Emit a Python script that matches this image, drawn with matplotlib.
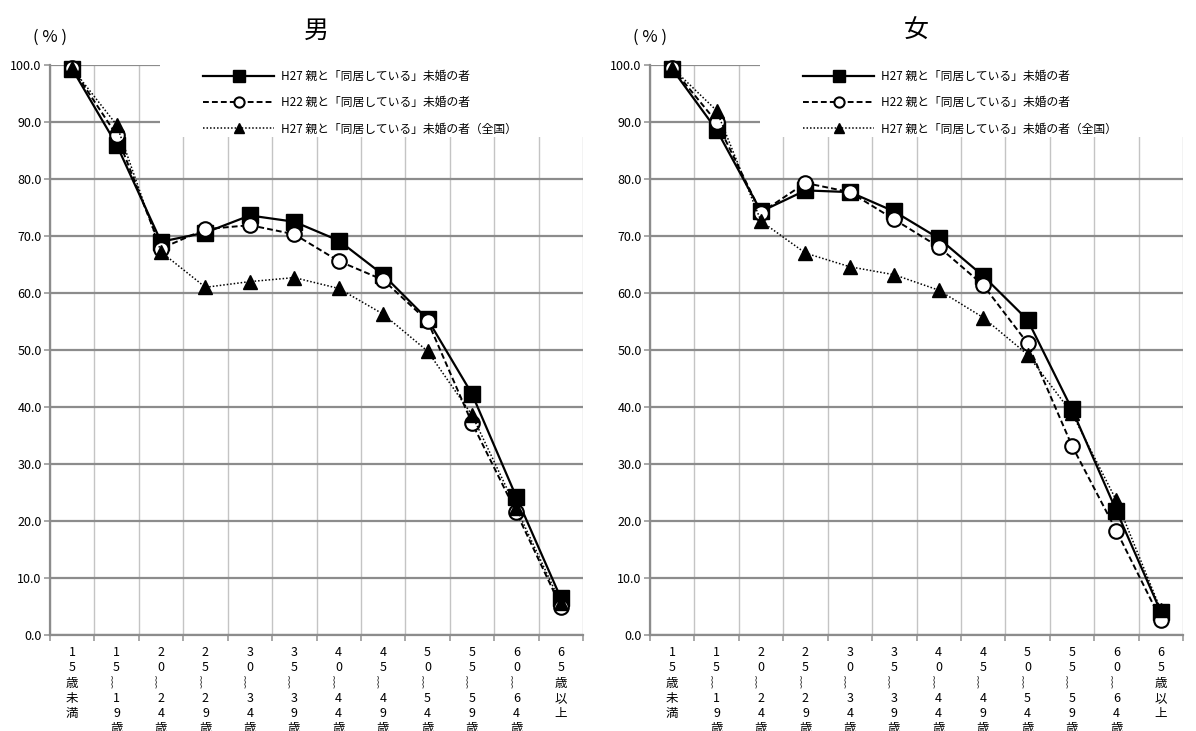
import numpy as np
import matplotlib.pyplot as plt
from matplotlib.lines import Line2D
from matplotlib.patches import Rectangle
from matplotlib.ticker import FixedLocator, FormatStrFormatter

plt.rcParams['font.family'] = ['Noto Sans CJK JP', 'DejaVu Sans']

# age groups (vertical labels)
age_labels = ['15歳未満', '15︴19歳', '20︴24歳', '25︴29歳', '30︴34歳', '35︴39歳',
              '40︴44歳', '45︴49歳', '50︴54歳', '55︴59歳', '60︴64歳', '65歳以上']

series_names = ['H27 親と「同居している」未婚の者',
                'H22 親と「同居している」未婚の者',
                'H27 親と「同居している」未婚の者（全国）']

# 男
male_h27 = [99.3, 86.0, 69.0, 70.6, 73.6, 72.5, 69.2, 63.2, 55.4, 42.3, 24.2, 6.5]
male_h22 = [99.5, 87.7, 67.8, 71.2, 71.9, 70.3, 65.6, 62.3, 55.1, 37.2, 21.5, 5.0]
male_all = [99.4, 89.5, 67.2, 61.0, 62.0, 62.7, 60.8, 56.3, 49.8, 38.6, 22.2, 5.6]

# 女
female_h27 = [99.3, 88.6, 74.3, 78.0, 77.7, 74.3, 69.6, 63.0, 55.3, 39.6, 21.8, 4.1]
female_h22 = [99.5, 90.0, 74.1, 79.3, 77.7, 72.9, 68.1, 61.4, 51.2, 33.2, 18.3, 2.7]
female_all = [99.5, 92.0, 72.6, 67.0, 64.6, 63.2, 60.5, 55.7, 49.2, 38.9, 23.6, 4.4]


def vlabel(s):
    return '\n'.join(list(s))


styles = [dict(ls='-', lw=1.6, marker='s', ms=12, mfc='black', mec='black'),
          dict(ls=(0, (3, 1.6)), lw=1.4, marker='o', ms=10.5, mfc='white', mec='black', mew=1.5),
          dict(ls=(0, (1, 1.3)), lw=1.1, marker='^', ms=10.5, mfc='black', mec='black')]

fig = plt.figure(figsize=(11.96, 7.31), dpi=100)
W, H = 1196, 731

x = np.arange(len(age_labels))


def draw(ax, title, data):
    for vals, st in zip(data, styles):
        ax.plot(x, vals, color='black', zorder=5, clip_on=False, **st)
    ax.set_xlim(-0.5, len(age_labels) - 0.5)
    ax.set_ylim(0, 100)
    ax.set_yticks(np.arange(0, 101, 10))
    ax.yaxis.set_major_formatter(FormatStrFormatter('%.1f'))
    ax.set_xticks(x)
    ax.set_xticklabels([vlabel(s) for s in age_labels], fontsize=9, linespacing=1.22, va='top')
    ax.tick_params(axis='x', which='major', length=0, pad=8)
    ax.xaxis.set_minor_locator(FixedLocator(np.arange(-0.5, len(age_labels), 1)))
    ax.tick_params(axis='x', which='minor', length=4, color='#999999', width=1.2)
    ax.tick_params(axis='y', length=4, color='#999999', width=1.2, labelsize=9, pad=2)
    ax.grid(axis='y', which='major', color='#8c8c8c', lw=1.6)
    ax.grid(axis='x', which='minor', color='#c4c4c4', lw=1.0)
    ax.set_axisbelow(True)
    for s in ['top', 'right']:
        ax.spines[s].set_visible(False)
    for s in ['left', 'bottom']:
        ax.spines[s].set_color('#8c8c8c')
        ax.spines[s].set_linewidth(1.6)

    # white legend area covering grid
    ax.add_patch(Rectangle((0.206, 0.874), 0.82, 0.15, transform=ax.transAxes,
                           facecolor='white', edgecolor='none', zorder=2, clip_on=False))
    handles = [Line2D([], [], color='black', **{**st, 'ms': st['ms'] * 0.7}) for st in styles]
    ax.legend(handles, series_names, loc='upper left', bbox_to_anchor=(0.268, 1.01),
              frameon=False, fontsize=8.5, handlelength=6.0, handletextpad=0.6,
              labelspacing=1.12)

    ax.text(0.5, 1.06, title, transform=ax.transAxes, ha='center', va='center', fontsize=18)
    ax.text(0.0, 1.049, '( % )', transform=ax.transAxes, ha='center', va='center', fontsize=12)


ax1 = fig.add_axes([50 / W, 1 - 635 / H, 533 / W, 570 / H])
draw(ax1, '男', [male_h27, male_h22, male_all])

ax2 = fig.add_axes([650 / W, 1 - 635 / H, 533 / W, 570 / H])
draw(ax2, '女', [female_h27, female_h22, female_all])

plt.savefig('out.png', dpi=100)
